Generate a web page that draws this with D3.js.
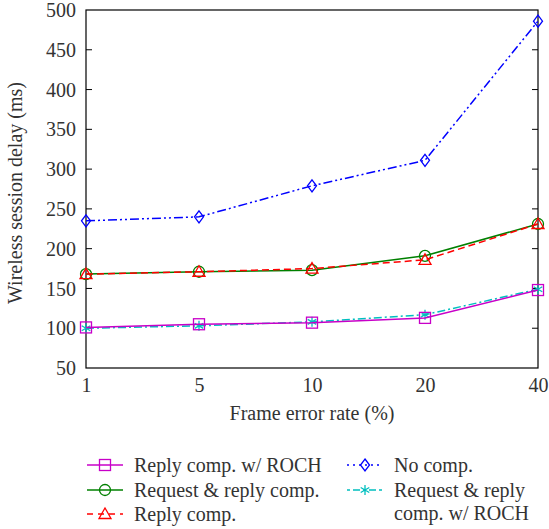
<!DOCTYPE html>
<html>
<head>
<meta charset="utf-8">
<script src="https://cdn.jsdelivr.net/npm/d3@7"></script>
<style>
  body { margin: 0; background: #fff; }
  svg text { font-family: "Liberation Serif", "DejaVu Serif", serif; fill: #333; }
</style>
</head>
<body>
<svg id="chart" width="549" height="529"></svg>
<script>
// ── Data ───────────────────────────────────────────────────────────────────
const frameErrorRates = ['1', '5', '10', '20', '40'];
const yTicks = [50, 100, 150, 200, 250, 300, 350, 400, 450, 500];

const noComp       = [235, 240, 279, 311, 486];
const reqReplyComp = [168, 171, 173, 191, 231];
const replyComp    = [168, 171, 175, 186, 231];
const replyRoch    = [101, 105, 107, 113, 148];
const reqReplyRoch = [100, 103, 108, 117, 149];

const series = [
  { name: 'No comp.', values: noComp, color: '#0000ff', dash: '9,3,2,3,2,3', marker: 'diamond' },
  { name: 'Request & reply comp.', values: reqReplyComp, color: '#008000', dash: null, marker: 'circle' },
  { name: 'Reply comp.', values: replyComp, color: '#ff0000', dash: '7,4', marker: 'triangle' },
  { name: 'Request & reply comp. w/ ROCH', values: reqReplyRoch, color: '#00bfbf', dash: '8,3,2,3', marker: 'star' },
  { name: 'Reply comp. w/ ROCH', values: replyRoch, color: '#c800c8', dash: null, marker: 'square' },
];

// ── Layout ─────────────────────────────────────────────────────────────────
const svg = d3.select('#chart');
const L = 86, R = 538, T = 10, B = 368;
const FS = 20;

const x = d3.scalePoint().domain(frameErrorRates).range([L, R]);
const y = d3.scaleLinear().domain([50, 500]).range([B, T]);

// frame
svg.append('rect').attr('x', L).attr('y', T).attr('width', R - L).attr('height', B - T)
  .attr('fill', 'none').attr('stroke', '#000').attr('stroke-width', 1.2);

// y ticks, inside on both sides
const gy = svg.append('g').attr('transform', `translate(${L},0)`)
  .call(d3.axisLeft(y).tickValues(yTicks).tickSize(0).tickPadding(10));
gy.select('.domain').remove();
gy.selectAll('text').attr('font-size', FS).attr('dy', '0.33em');
yTicks.slice(1, -1).forEach(v => {
  svg.append('line').attr('x1', L).attr('x2', L + 6).attr('y1', y(v)).attr('y2', y(v)).attr('stroke', '#000');
  svg.append('line').attr('x1', R - 6).attr('x2', R).attr('y1', y(v)).attr('y2', y(v)).attr('stroke', '#000');
});

const gx = svg.append('g').attr('transform', `translate(0,${B})`)
  .call(d3.axisBottom(x).tickSize(0).tickPadding(10));
gx.select('.domain').remove();
gx.selectAll('text').attr('font-size', FS).attr('dy', '0.71em');

svg.append('text').attr('x', (L + R) / 2).attr('y', 420).attr('text-anchor', 'middle')
  .attr('font-size', FS).text('Frame error rate (%)');
svg.append('text').attr('transform', `translate(22,${(T + B) / 2 + 4}) rotate(-90)`)
  .attr('text-anchor', 'middle').attr('font-size', FS).text('Wireless session delay (ms)');

// ── Markers ────────────────────────────────────────────────────────────────
function drawMarker(g, type, cx, cy, color) {
  let m;
  if (type === 'square') m = g.append('rect').attr('x', cx - 5.5).attr('y', cy - 5.5).attr('width', 11).attr('height', 11);
  else if (type === 'circle') m = g.append('circle').attr('cx', cx).attr('cy', cy).attr('r', 5.5);
  else if (type === 'triangle') m = g.append('path').attr('d', `M${cx},${cy - 6}L${cx + 6},${cy + 4.5}L${cx - 6},${cy + 4.5}Z`);
  else if (type === 'diamond') m = g.append('path').attr('d', `M${cx},${cy - 6}L${cx + 4.5},${cy}L${cx},${cy + 6}L${cx - 4.5},${cy}Z`);
  else m = g.append('path')
    .attr('d', `M${cx},${cy - 5}V${cy + 5}M${cx - 4.3},${cy - 2.5}L${cx + 4.3},${cy + 2.5}M${cx - 4.3},${cy + 2.5}L${cx + 4.3},${cy - 2.5}`);
  m.attr('fill', 'none').attr('stroke', color).attr('stroke-width', 1.3);
}

const line = d3.line().x((d, i) => x(frameErrorRates[i])).y(d => y(d));
series.forEach(s => {
  const g = svg.append('g');
  g.append('path').datum(s.values).attr('d', line).attr('fill', 'none')
    .attr('stroke', s.color).attr('stroke-width', 1.5)
    .attr('stroke-dasharray', s.dash);
  s.values.forEach((v, i) => drawMarker(g, s.marker, x(frameErrorRates[i]), y(v), s.color));
});

// ── Legend ─────────────────────────────────────────────────────────────────
const legendItems = [
  { s: series[4], x: 87,  y: 465, lines: ['Reply comp. w/ ROCH'], dash: null },
  { s: series[1], x: 87,  y: 490, lines: ['Request & reply comp.'], dash: null },
  { s: series[2], x: 87,  y: 514, lines: ['Reply comp.'], dash: '6,5' },
  { s: series[0], x: 347, y: 465, lines: ['No comp.'], dash: '2,4' },
  { s: series[3], x: 347, y: 490, lines: ['Request & reply', 'comp. w/ ROCH'], dash: '3,3,7,3' },
];
legendItems.forEach(it => {
  const g = svg.append('g');
  g.append('line').attr('x1', it.x).attr('x2', it.x + 36).attr('y1', it.y).attr('y2', it.y)
    .attr('stroke', it.s.color).attr('stroke-width', 1.5).attr('stroke-dasharray', it.dash);
  drawMarker(g, it.s.marker, it.x + 18, it.y, it.s.color);
  it.lines.forEach((t, j) => {
    g.append('text').attr('x', it.x + 47).attr('y', it.y + j * 23).attr('dy', '0.33em')
      .attr('font-size', FS).text(t);
  });
});
</script>
</body>
</html>
